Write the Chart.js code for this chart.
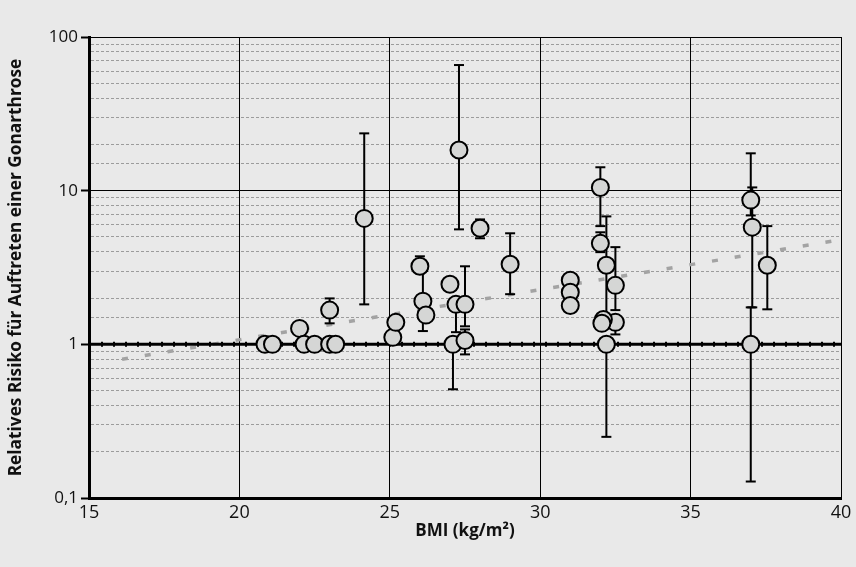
<!DOCTYPE html>
<html>
<head>
<meta charset="utf-8">
<script src="https://cdn.jsdelivr.net/npm/chart.js@4.4.1/dist/chart.umd.min.js"></script>
<style>
  html, body { margin: 0; padding: 0; background: #e9e9e9; }
  #wrap { width: 856px; height: 567px; position: relative; }
</style>
</head>
<body>
<div id="wrap"><canvas id="rr"></canvas></div>
<script>
// studies: BMI and relative risk (circles)
const bmi = [20.85, 21.1, 22.0, 22.15, 22.5, 23.0, 23.2, 23.0, 24.15, 25.1, 25.2,
  26.0, 26.1, 26.2, 27.0, 27.2, 27.1, 27.3, 27.5, 27.5, 28.0, 29.0,
  31.0, 31.0, 31.0, 32.0, 32.0, 32.2, 32.5, 32.5, 32.1, 32.05, 32.2,
  37.0, 37.05, 37.0, 37.55];
const rr = [1.0, 1.0, 1.27, 1.0, 1.0, 1.0, 1.0, 1.67, 6.6, 1.11, 1.39,
  3.22, 1.91, 1.55, 2.46, 1.82, 1.0, 18.4, 1.82, 1.06, 5.7, 3.32,
  2.61, 2.18, 1.79, 10.5, 4.54, 3.27, 2.42, 1.39, 1.45, 1.37, 1.0,
  8.68, 5.79, 1.0, 3.27];

// confidence intervals (only where a bar is drawn)
const errBmi  = [23.0, 24.15, 26.0, 26.1, 27.2, 27.1, 27.3, 27.5, 27.5, 28.0, 29.0,
  32.0, 32.0, 32.2, 32.5, 32.5, 32.2, 37.0, 37.05, 37.0, 37.55];
const errLow  = [1.37, 1.82, 2.9, 1.22, 1.2, 0.51, 5.6, 1.31, 0.86, 4.9, 2.12,
  5.88, 3.98, 1.35, 1.67, 1.16, 0.25, 6.9, 1.74, 0.128, 1.69];
const errHigh = [1.99, 23.6, 3.74, 3.0, 2.0, 1.0, 65.7, 3.22, 1.25, 6.5, 5.28,
  14.2, 5.36, 6.8, 4.29, 1.39, 1.0, 17.5, 10.5, 1.74, 5.88];

// regression line and reference line
const trendX = [16.1, 40];
const trendY = [0.8, 4.8];
const refX = [15, 40];
const refY = [1, 1];

const xTicks = [15, 20, 25, 30, 35, 40];

const isMajor = v => {
  const l = Math.log10(v);
  return Math.abs(l - Math.round(l)) < 1e-6;
};

const points = bmi.map((x, i) => ({ x, y: rr[i] }));
const errData = [];
errBmi.forEach((x, i) => {
  errData.push({ x, y: errLow[i] }, { x, y: errHigh[i] }, { x, y: null });
});
const trend = trendX.map((x, i) => ({ x, y: trendY[i] }));
const ref = refX.map((x, i) => ({ x, y: refY[i] }));

new Chart(document.getElementById('rr'), {
  type: 'scatter',
  data: {
    datasets: [
      {
        data: points,
        backgroundColor: '#d5d6d5',
        borderColor: '#000',
        borderWidth: 2,
        pointRadius: 8.5,
        order: 1
      },
      {
        data: errData,
        showLine: true,
        spanGaps: false,
        borderColor: '#000',
        borderWidth: 2,
        pointStyle: 'line',
        pointRadius: 5,
        pointBorderWidth: 2,
        pointBorderColor: '#000',
        order: 2
      },
      {
        data: ref,
        showLine: true,
        borderColor: '#000',
        borderWidth: 3,
        pointRadius: 0,
        order: 3
      },
      {
        data: ref,
        showLine: true,
        borderColor: '#000',
        borderWidth: 5,
        borderDash: [2, 10],
        pointRadius: 0,
        order: 3
      },
      {
        data: trend,
        showLine: true,
        borderColor: '#a3a3a3',
        borderWidth: 3.5,
        borderDash: [6, 17],
        pointRadius: 0,
        order: 4
      }
    ]
  },
  options: {
    responsive: true,
    maintainAspectRatio: false,
    animation: false,
    layout: { padding: { left: 0, right: 15, top: 37, bottom: 0 } },
    plugins: { legend: { display: false }, tooltip: { enabled: false } },
    scales: {
      x: {
        type: 'linear',
        min: 15,
        max: 40,
        afterBuildTicks: s => { s.ticks = xTicks.map(v => ({ value: v })); },
        afterFit: s => { s.height = 69; },
        grid: { color: '#000', lineWidth: 1, drawTicks: false },
        border: { color: '#000', width: 3 },
        ticks: {
          padding: 4,
          color: '#111',
          font: { family: "'Liberation Sans Narrow', 'Open Sans', sans-serif", size: 18 }
        },
        title: {
          display: true,
          text: 'BMI (kg/m²)',
          color: '#111',
          padding: { top: 0, bottom: 26 },
          font: { family: "'Open Sans', sans-serif", size: 17, weight: 'bold' }
        }
      },
      y: {
        type: 'logarithmic',
        min: 0.1,
        max: 100,
        afterFit: s => { s.width = 89; },
        grid: {
          color: c => (c.tick && isMajor(c.tick.value)) ? '#000' : '#9c9c9c',
          lineWidth: 1,
          tickLength: 8,
          tickWidth: 2,
          tickColor: c => (c.tick && isMajor(c.tick.value)) ? '#000' : 'rgba(0,0,0,0)'
        },
        border: {
          color: '#000',
          width: 3,
          dash: c => (c.tick && !isMajor(c.tick.value)) ? [3, 2] : []
        },
        ticks: {
          autoSkip: false,
          padding: 3,
          color: '#111',
          font: { family: "'Open Sans', sans-serif", size: 17 },
          callback: v => isMajor(v) ? String(v).replace('.', ',') : ''
        },
        title: {
          display: true,
          text: 'Relatives Risiko für Auftreten einer Gonarthrose',
          color: '#111',
          padding: { top: 6, bottom: 0 },
          font: { family: "'Open Sans', sans-serif", size: 17.3, weight: 'bold' }
        }
      }
    }
  }
});
</script>
</body>
</html>
